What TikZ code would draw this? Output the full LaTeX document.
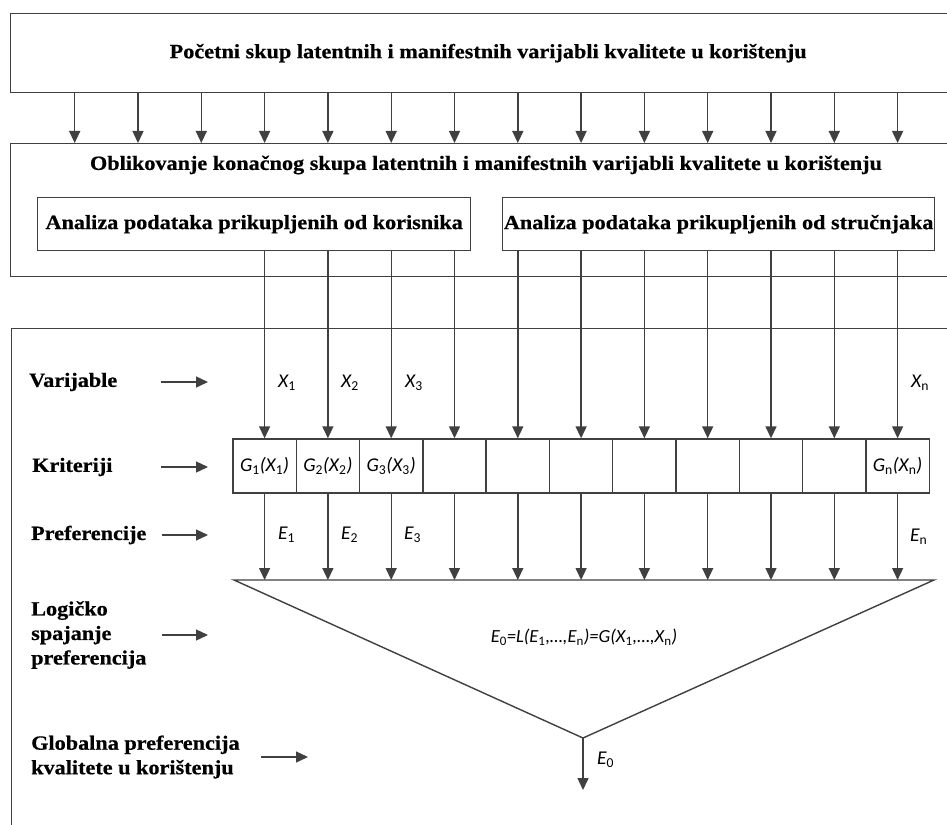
\documentclass[tikz,border=0pt]{standalone}
\usepackage{fontspec}
\setmainfont{Liberation Serif}[FakeStretch=1.1, BoldFeatures={FakeBold=0.6}]
\newfontfamily\calfont{Carlito}
\usetikzlibrary{arrows.meta}
\definecolor{lc}{HTML}{404040}
\newcommand\sbx[1]{\textsubscript{\upshape #1}}
\newcommand\bft{\fontsize{20.2}{24.5}\selectfont\bfseries}
\newcommand\mft{\calfont\itshape\fontsize{19.5}{24}\selectfont}
\begin{document}
\begin{tikzpicture}[x=1pt,y=-1pt,
  ln/.style={draw=lc, line width=1.4pt},
  arr/.style={draw=lc, line width=1.4pt, -{Triangle[length=12pt,width=11pt]}},
  bx/.style={draw=lc, line width=1.4pt, fill=white, inner sep=0pt, anchor=north west},
  cell/.style={draw=lc, line width=1.4pt, minimum width=63.3pt, minimum height=54pt, inner sep=0pt, font=\mft},
  bt/.style={font=\bft, inner sep=0pt},
  mt/.style={font=\mft, inner sep=0pt, anchor=west},
  lbl/.style={font=\bft, align=left, inner sep=0pt, anchor=west}]
\clip (0,0) rectangle (947,824);
\fill[white] (0,0) rectangle (947,824);
% top box
\node[bx, minimum width=955pt, minimum height=79pt, font=\bft] (top) at (10,13) {Početni skup latentnih i manifestnih varijabli kvalitete u korištenju};
% middle box
\node[bx, minimum width=955pt, minimum height=133pt] (mid) at (10,143) {};
\node[bt] (midt) at (486,165) {Oblikovanje konačnog skupa latentnih i manifestnih varijabli kvalitete u korištenju};
\node[bx, minimum width=433pt, minimum height=53pt, font=\bft] (inL) at (37,197) {Analiza podataka prikupljenih od korisnika};
\node[bx, minimum width=432pt, minimum height=53pt, font=\bft] (inR) at (502,197) {Analiza podataka prikupljenih od stručnjaka};
% arrows top -> mid
\foreach \k in {0,...,13} {
  \coordinate (t\k) at ({74.7+63.3*\k},0);
  \draw[arr] (t\k |- top.south) -- (t\k |- mid.north);
}
% lower box
\node[bx, minimum width=954pt, minimum height=512pt] (low) at (11,328) {};
% cells
\foreach \k in {1,...,11} {
  \node[cell] (c\k) at ({264.6+63.3*(\k-1)},466) {};
}
\node[font=\mft, inner sep=0pt] (g1) at (c1) {G\sbx{1}(X\sbx{1})};
\node[font=\mft, inner sep=0pt] (g2) at (c2) {G\sbx{2}(X\sbx{2})};
\node[font=\mft, inner sep=0pt] (g3) at (c3) {G\sbx{3}(X\sbx{3})};
\node[font=\mft, inner sep=0pt] (gn) at (c11) {G\sbx{n}(X\sbx{n})};
% connectors from analysis boxes to cells
\foreach \k in {1,...,4} { \draw[arr] (c\k.north |- inL.south) -- (c\k.north); }
\foreach \k in {5,...,11} { \draw[arr] (c\k.north |- inR.south) -- (c\k.north); }
% triangle
\coordinate (tl) at (234,580);
\coordinate (tr) at (934,580);
\coordinate (ap) at (583,738);
\draw[ln, line join=miter] (tl) -- (tr) -- (ap) -- cycle;
\foreach \k in {1,...,11} { \draw[arr] (c\k.south) -- (c\k.south |- tl); }
\coordinate (e0end) at (583,790);
\draw[arr] (ap) -- (e0end);
% variable labels
\node[mt] (x1) at (278,383) {X\sbx{1}};
\node[mt] (x2) at (341,383) {X\sbx{2}};
\node[mt] (x3) at (405,383) {X\sbx{3}};
\node[mt] (xn) at (911,383) {X\sbx{n}};
\node[mt] (e1) at (278,535) {E\sbx{1}};
\node[mt] (e2) at (341,535) {E\sbx{2}};
\node[mt] (e3) at (404,535) {E\sbx{3}};
\node[mt] (en) at (910,537) {E\sbx{n}};
\node[mt] (e0) at (597,760) {E\sbx{0}};
\node[font=\calfont\itshape\fontsize{18.5}{22}\selectfont, inner sep=0pt] (form) at (584,637) {E\sbx{0}=L(E\sbx{1},…,E\sbx{n})=G(X\sbx{1},…,X\sbx{n})};
% left labels
\node[lbl] (lv) at (29,382) {Varijable};
\node[lbl] (lk) at (32,467) {Kriteriji};
\node[lbl] (lp) at (31,535) {Preferencije};
\node[lbl] (ll) at (31,635) {Logičko\\spajanje\\preferencija};
\node[lbl] (lg) at (31,757) {Globalna preferencija\\kvalitete u korištenju};
\coordinate (av1) at (161,382); \coordinate (av2) at (208,382);
\coordinate (ak1) at (161,467); \coordinate (ak2) at (208,467);
\coordinate (ap1) at (162,535); \coordinate (ap2) at (208,535);
\coordinate (al1) at (162,635); \coordinate (al2) at (208,635);
\coordinate (ag1) at (261,757); \coordinate (ag2) at (308,757);
\draw[arr] (av1) -- (av2);
\draw[arr] (ak1) -- (ak2);
\draw[arr] (ap1) -- (ap2);
\draw[arr] (al1) -- (al2);
\draw[arr] (ag1) -- (ag2);
\end{tikzpicture}
\end{document}
